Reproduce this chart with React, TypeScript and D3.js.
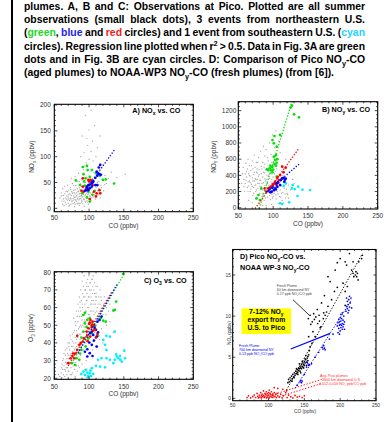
import React, { useLayoutEffect, useRef } from "react";
import * as d3 from "d3";

type Pt = [number, number];
type Seg = { t: string; c?: string; s?: "sub" | "sup" };

const FONT = "'Liberation Sans', Arial, Helvetica, sans-serif";
const GREEN = "#00e000";
const BLUE = "#0000ff";
const RED = "#ff0000";
const CYAN = "#00eeff";
const GRAY = "#a4a4a4";

// caption text, one array per printed line
const captionLines: Seg[][] = [
  [{ t: "plumes. A, B and C: Observations at Pico. Plotted are all summer" }],
  [{ t: "observations (small black dots), 3 events from northeastern U.S." }],
  [
    { t: "(" }, { t: "green", c: "#22d822" }, { t: ", " }, { t: "blue", c: "#2222ee" },
    { t: " and " }, { t: "red", c: "#ee2222" },
    { t: " circles) and 1 event from southeastern U.S. (" }, { t: "cyan", c: "#22d4ff" },
  ],
  [{ t: "circles). Regression line plotted when r" }, { t: "2", s: "sup" }, { t: " > 0.5. Data in Fig. 3A are green" }],
  [{ t: "dots and in Fig. 3B are cyan circles. D: Comparison of Pico NO" }, { t: "y", s: "sub" }, { t: "-CO" }],
  [{ t: "(aged plumes) to NOAA-WP3 NO" }, { t: "y", s: "sub" }, { t: "-CO (fresh plumes) (from [6])." }],
];

const xTicks = [50, 100, 150, 200, 250];
const yTicksA = [0, 50, 100, 150, 200];
const yTicksB = [0, 200, 400, 600, 800, 1000, 1200];
const yTicksC = [20, 30, 40, 50, 60, 70, 80];
const yTicksD = [0, 5, 10, 15];

// ---- Panel A: NOx vs CO
const grayA: Pt[] = [
  [66,12],[68,18],[70,22],[70,10],[72,15],[72,28],[73,20],[74,8],[75,25],[75,32],[76,14],[77,19],[78,24],[78,35],[79,11],
  [80,28],[80,17],[81,22],[82,30],[82,13],[83,38],[84,20],[84,26],[85,16],[85,33],[86,23],[87,29],[87,10],[88,36],[88,19],
  [89,25],[90,31],[90,14],[91,22],[92,40],[92,27],[93,17],[94,34],[94,24],[95,12],[96,29],[96,37],[97,20],[98,26],[99,33],
  [100,18],[100,42],[101,24],[102,30],[103,15],[58,20],[60,30],[61,14],[62,38],[63,25],[64,5],[65,42],[67,33],[69,45],
  [71,4],[73,40],[76,48],[79,3],[81,44],[83,52],[86,6],[88,47],[90,55],[93,4],[95,50],[97,60],[99,8],[102,48],[104,38],
  [105,58],[106,22],[107,70],[108,44],[110,30],[111,62],[112,50],[114,38],[115,72],[117,45],[119,56],[121,34],[123,64],
  [125,48],[128,58],[132,70],[85,68],[92,75],[96,88],[100,95],[103,110],[98,122],[105,130],[90,140],[100,152],[108,160],
  [95,180],[103,190],[120,85],[140,60],[152,66],[110,100],[88,100],[80,62],[75,58],[69,16],[71,35],[74,18],[77,30],[79,21],
  [83,9],[86,40],[89,12],[91,35],[93,30],[97,15],[98,44],[101,36],[104,27],[107,34],[109,18],[113,26],[116,20],[118,30],
  [63,18],[65,28],[67,8],[68,24],[69,32],[71,18],[72,6],[73,26],[74,36],[75,14],[76,29],[77,9],[78,16],[79,30],[80,8],
  [80,36],[81,15],[82,24],[83,18],[84,32],[85,10],[86,28],[86,18],[87,36],[88,24],[89,16],[89,42],[90,22],[91,9],[91,28],
  [92,18],[93,36],[94,14],[95,26],[95,40],[96,20],[97,32],[98,12],[99,28],[100,36],[101,14],[102,22],[103,40],[104,20],
  [105,30],[106,44],[108,26],[110,40],[112,34],[114,52],[118,40],[122,46],[92,58],[86,52],[78,44],[70,26],[66,20],[64,14],
  [60,24],[62,8],[94,82],[106,92],[112,118],[97,135],[93,108],[116,140],
];
const greenA: Pt[] = [
  [91,80],[97,82],[98,74],[104,74],[124,56],[136,48],[81,54],[92,66],[95,58],[101,61],[106,52],[111,45],[108,34],[99,32],
  [94,44],[87,45],[101,13],[97,21],[105,26],[90,29],[120,55],[116,63],[110,68],[100,45],[96,39],[103,50],[93,52],
];
const blueA: Pt[] = [
  [116,84],[114,79],[111,71],[115,66],[117,65],[112,63],[109,59],[106,52],[104,48],[101,46],[99,45],[97,42],[96,35],
  [94,34],[99,35],[104,42],[109,45],[112,45],[101,39],[105,50],[113,67],[98,37],
];
const redA: Pt[] = [
  [91,42],[92,32],[89,34],[91,58],[100,52],[104,53],[107,32],[111,29],[116,29],[115,35],[110,23],[101,18],[96,39],
  [99,55],[105,45],[102,55],
];
const fitBlueA: Pt[] = [[95, 35], [137, 114]];

// ---- Panel B: NOy vs CO
const grayB: Pt[] = [
  [60,300],[62,380],[63,250],[65,420],[66,330],[67,200],[68,460],[69,290],[70,370],[71,150],[72,410],[72,250],[73,330],
  [74,500],[75,200],[75,280],[76,440],[77,350],[78,120],[78,240],[79,390],[80,300],[80,470],[81,180],[82,340],[83,420],
  [83,260],[84,140],[85,380],[85,220],[86,310],[87,500],[87,90],[88,270],[88,430],[89,180],[90,350],[90,230],[91,400],
  [92,130],[92,300],[93,460],[94,200],[95,260],[95,360],[96,100],[97,320],[97,420],[98,170],[99,240],[100,380],[100,140],
  [101,280],[102,200],[103,330],[104,110],[105,250],[106,400],[107,170],[108,300],[110,220],[111,130],[112,270],[114,190],
  [116,240],[55,300],[56,420],[58,350],[57,500],[59,200],[61,550],[64,600],[66,520],[70,580],[73,650],[76,560],[79,620],
  [82,700],[85,560],[88,640],[90,720],[93,580],[95,800],[97,660],[99,900],[102,740],[104,950],[106,600],[108,820],[110,680],
  [112,520],[114,400],[118,330],[120,180],[122,280],[125,220],[128,350],[118,120],[115,60],[108,50],[98,40],[90,30],[80,50],
  [70,60],[65,90],[100,560],[96,500],[92,620],[86,760],[112,880],[118,600],[124,450],[130,300],[122,120],[85,30],[62,450],
  [64,320],[67,390],[71,480],[74,360],[77,430],[81,260],[84,480],[86,170],[89,330],[91,250],[94,410],[98,350],[103,450],
  [58,260],[60,420],[61,340],[63,480],[64,200],[65,270],[66,400],[67,310],[68,230],[69,520],[70,260],[71,330],[72,180],
  [73,440],[74,280],[75,350],[76,220],[77,480],[78,300],[79,160],[80,410],[81,340],[82,230],[83,510],[84,300],[85,170],
  [86,440],[87,230],[88,360],[89,120],[90,470],[91,300],[92,200],[93,390],[94,280],[95,150],[96,430],[97,210],[98,300],
  [99,120],[100,320],[101,180],[102,420],[103,260],[104,160],[105,340],[106,200],[108,250],[109,140],[110,320],[112,180],
  [113,90],[115,280],[117,170],[119,230],[121,160],[105,480],[98,560],[88,540],[78,560],
];
const greenB: Pt[] = [
  [127,1262],[125,1237],[130,1155],[137,1118],[110,900],[102,887],[99,837],[101,796],[105,755],[104,652],[101,631],
  [103,590],[105,557],[102,540],[104,520],[99,507],[95,487],[93,466],[91,474],[97,462],[99,437],[105,384],[83,239],
  [76,115],[79,157],[81,95],[100,470],[106,600],[96,520],
];
const redB: Pt[] = [
  [113,507],[118,495],[115,437],[110,404],[106,371],[103,322],[100,289],[97,260],[93,239],[88,239],[105,280],[108,342],
  [102,301],[99,272],[113,363],[90,200],[95,250],[107,310],
];
const blueB: Pt[] = [
  [117,350],[113,363],[116,322],[111,342],[110,280],[106,260],[103,239],[99,247],[95,231],[93,206],[98,198],[101,218],
  [105,301],[107,313],[115,370],[118,360],[96,190],[104,225],
];
const cyanB: Pt[] = [
  [115,268],[128,280],[131,231],[136,260],[142,223],[153,219],[135,144],[110,54],[123,66],[113,45],[127,239],[118,300],
];
const fitGreenB: Pt[] = [[80, -10], [127, 1311]];
const fitRedB: Pt[] = [[74, -10], [136, 722]];
const fitBlueB: Pt[] = [[90, 190], [138, 545]];

// ---- Panel C: O3 vs CO
const grayC: Pt[] = [
  [58,21],[60,23],[61,20.5],[62,25],[63,22],[64,27],[65,21],[66,24],[67,29],[68,22],[69,26],[70,31],[70,20.5],[71,24],
  [72,28],[73,33],[73,22],[74,26],[75,30],[76,35],[76,23],[77,27],[78,32],[79,25],[80,37],[80,21],[81,29],[82,34],[83,24],
  [84,39],[85,27],[66,33],[68,37],[70,40],[72,36],[74,42],[75,38],[76,45],[78,40],[79,47],[80,43],[81,50],[82,38],[83,45],
  [84,52],[85,35],[85,48],[86,55],[87,42],[88,50],[88,58],[89,38],[90,46],[90,53],[91,60],[92,43],[93,49],[93,56],[94,62],
  [95,40],[95,52],[96,58],[97,46],[97,64],[98,54],[99,60],[99,42],[100,48],[100,66],[101,56],[102,62],[103,50],[103,44],
  [104,58],[105,68],[106,52],[107,62],[108,46],[109,57],[110,64],[111,50],[112,60],[114,54],[116,62],[118,48],[120,56],
  [84,62],[86,66],[88,70],[89,64],[90,75],[91,68],[92,72],[93,78],[94,66],[95,70],[96,74],[97,68],[98,76],[99,72],[100,78],
  [101,70],[102,74],[103,66],[104,76],[105,72],[106,78],[107,70],[108,74],[110,68],[112,72],[114,66],[116,70],[118,64],
  [122,66],[125,60],[128,58],[130,62],[62,30],[64,34],[66,29],[68,31],[56,22],[72,40],[78,54],[82,58],[115,42],[120,40],
  [125,50],[130,52],[135,46],[110,38],[105,36],[96,30],[90,28],[86,26],[88,22],[94,25],[67,26],[71,33],[74,30],[77,38],
  [79,33],[82,42],[86,45],[89,49],[91,41],[94,53],[97,50],[99,56],[102,53],[104,64],[107,56],[109,66],[111,58],[87,60],
  [60,26],[61,28],[63,31],[65,25],[66,36],[68,28],[69,34],[70,24],[71,38],[72,31],[73,44],[74,34],[75,22],[76,41],[77,31],
  [78,46],[79,36],[80,52],[81,40],[82,47],[83,55],[84,43],[85,58],[86,49],[87,63],[88,45],[89,55],[90,62],[91,50],[92,66],
  [93,52],[94,70],[95,58],[96,64],[97,72],[98,60],[99,66],[100,54],[101,74],[102,58],[103,70],[104,62],[105,76],[106,64],
  [107,58],[108,68],[109,62],[110,72],[111,66],[113,62],[115,58],[117,66],[119,60],[121,62],[124,56],[127,64],[82,27],
  [78,29],[88,33],[92,36],
];
const greenC: Pt[] = [
  [149,79],[139,63.4],[135,58.3],[137,58.7],[124,52],[120.5,52.6],[116.7,54],[94,57],[91.7,55.8],[94,51],[97.5,53],
  [101,54],[104,50.8],[92,46.4],[89,43],[99,42.6],[104,45.5],[89,36],[87,34],[82,31.3],[75,28.5],[80,27.5],[86,30.4],
  [96.5,48.9],[108.5,49.6],[113,44],[95,38],
];
const redC: Pt[] = [
  [102,53],[105,52],[100,50.8],[107,50],[103.8,48.9],[99,48.3],[109,47.4],[112,45],[110,43],[101.6,43.6],[97.5,44],
  [92.7,42.6],[91,40.8],[86,38.9],[83,36],[80,34],[76,32.6],[73.5,31.3],[79,31.3],[70,28.5],[96.5,46.4],[83,44],
  [104,50],[106,47],[101,51.5],[98,41],[88,40],[77,34],
];
const blueC: Pt[] = [
  [118,54.9],[115,53],[112,52],[110,47.4],[104,46.4],[101.6,45.5],[106,44.5],[111,43.6],[107,41.3],[100.4,40.2],
  [104,38.9],[97.5,36.4],[101,34.2],[97.5,32.3],[105,32.6],[94,35],[111,37.9],[108,48.5],[113,46],
];
const cyanC: Pt[] = [
  [89,22.5],[94,21.9],[97.5,23.2],[101,22.8],[99,21.3],[102,24.3],[106,22.5],[95.7,24.7],[92,23.8],[104,25.7],[98,20.6],
  [103,21.2],[116,26.6],[123,26.2],[118,31.3],[113,30.4],[125,31.3],[130,30.4],[137,46.4],[130,43.6],[125,44],
  [120.5,41.7],[123,38.9],[140,32.3],[142,31.3],[137,30.4],[144.5,32.6],[147,29.4],[150.7,35.6],[151.7,31.3],[135,28.5],
  [125,36],[110,27],[139,33.5],[145,30.5],
];
const fitGreenC: Pt[] = [[75, 28.5], [151, 79.4]];
const fitRedC: Pt[] = [[70, 27], [133, 69]];
const fitBlueC: Pt[] = [[84, 34], [140, 73]];

// ---- Panel D: Pico vs NOAA WP-3
const blackD: Pt[] = [
  [127,1.9],[128,2.3],[129,2.0],[130,2.5],[131,2.2],[132,2.7],[133,2.4],[134,2.9],[135,2.6],[136,3.1],[137,2.8],[138,3.3],
  [139,3.0],[140,3.5],[140,3.1],[141,3.2],[142,3.7],[142,3.4],[143,3.6],[144,3.9],[144,3.3],[145,3.7],[146,4.1],[146,3.6],
  [147,3.9],[148,4.3],[148,3.8],[149,4.1],[150,4.5],[150,4.0],[151,4.3],[152,4.7],[153,4.4],[154,4.9],[155,4.6],[156,5.3],
  [157,5.8],[158,6.3],[133,2.1],[136,2.5],[139,3.6],[141,2.9],[143,4.2],[145,3.1],[147,4.5],[149,3.7],[151,4.8],[153,4.0],
  [155,5.1],[152,5.2],[155.6,9.7],[158,10.1],[161,9.3],[163,10.3],[166,9.9],[168.6,9.1],[170.5,10.1],[176.5,9.7],[179,10.1],
  [181,10.5],[173,8.7],[162,8.1],[156,7.5],[160.6,6.7],[164,9.6],[159,9.0],[171,9.4],[177,10.4],[165,7.5],[172,8.6],
  [183,11.2],[188,12.0],[192,13.0],[196,13.5],[186,14.2],[183,14.8],[193,15.6],[204,14.0],[207,13.0],[210,13.6],[209,12.2],
  [207,11.3],[216,15.6],[218,15.2],[219,14.8],[222,15.4],[223,14.8],[225,14.4],[221,15.0],[224,15.2],[226,16.6],[230,17.0],
  [231,17.4],[218,16.6],[207,16.6],[209,16.2],[200,17.0],[213,17.6],[196,16.5],[178,12.5],[174,11.6],[168,10.8],
];
const blueD: Pt[] = [
  [144,2.0],[145,2.2],[146,1.9],[147,2.1],[153,3.8],[155,4.2],[156,4.0],[154,4.4],[157,4.1],[175,6.2],[176,6.0],[177,6.4],
  [178,6.1],[179,5.9],[196,8.8],[197,9.2],[198,8.5],[198,9.6],[199,8.9],[199,9.3],[200,8.2],[200,9.0],[200,9.8],[201,8.6],
  [201,9.4],[202,8.9],[202,9.7],[203,8.4],[203,9.1],[204,9.5],[204,8.7],[205,9.0],[205,10.0],[206,9.3],[197,8.0],[201,10.2],
  [203,10.4],[199,7.8],[206,8.4],[208,10.6],[209,11.2],[210,10.9],[210,11.8],[211,11.4],[212,10.7],[212,12.0],[213,11.1],
  [214,11.6],[215,12.2],[216,11.0],[213,12.4],[211,10.4],[140,1.6],[150,2.9],[160,4.2],[165,5.0],[170,5.6],[185,7.2],
  [190,7.8],
];
const redD: Pt[] = [
  [70,0.1],[72,0.3],[75,0.05],[78,0.2],[80,0.4],[82,0.1],[84,0.6],[85,0.25],[86,0.05],[87,0.4],[88,0.15],[89,0.7],[90,0.3],
  [90,0.05],[91,0.5],[92,0.2],[93,0.9],[93,0.35],[94,0.1],[95,0.6],[95,0.25],[96,0.45],[97,0.05],[97,0.8],[98,0.3],
  [98,0.55],[99,0.15],[100,0.7],[100,0.4],[101,0.05],[101,1.0],[102,0.25],[102,0.6],[103,0.45],[104,0.15],[104,0.8],
  [105,0.35],[106,0.55],[106,0.1],[107,0.3],[108,0.7],[109,0.2],[110,0.45],[111,0.1],[112,0.6],[113,0.3],[115,0.15],
  [117,0.5],[119,0.05],[121,0.3],[124,0.7],[126,0.1],[128,0.4],[131,0.2],[134,0.05],[137,0.35],[140,0.15],[143,0.25],
  [147,0.1],[150,0.3],[120,1.1],[113,1.2],[125,0.9],[108,1.3],
];
const fitBlackD: Pt[] = [[125, 1.0], [231, 17.6]];
const fitBlueD: Pt[] = [[137, 1.2], [216, 12.0]];
const fitRedD1: Pt[] = [[105, 0.4], [174, 2.3]];
const fitRedD2: Pt[] = [[115, 0.2], [174, 1.8]];
const arrowBlackD: Pt[] = [[134, 12.0], [157, 10.1]];
const arrowBlueD: Pt[] = [[131, 6.0], [186, 7.9]];

type Scale = d3.ScaleLinear<number, number>;

function segs(list: Seg[], fs: number) {
  let shift = 0;
  return list.map((s, i) => {
    const target = s.s === "sub" ? fs * 0.25 : s.s === "sup" ? -fs * 0.38 : 0;
    const dy = target - shift;
    shift = target;
    return (
      <tspan key={i} dy={dy !== 0 ? dy : undefined} fill={s.c} fontSize={s.s ? fs * 0.7 : undefined}>
        {s.t}
      </tspan>
    );
  });
}

function Dots({ pts, x, y, color, r }: { pts: Pt[]; x: Scale; y: Scale; color: string; r: number }) {
  return (
    <g fill={color}>
      {pts.map((d, i) => (
        <circle key={i} cx={x(d[0])} cy={y(d[1])} r={r} />
      ))}
    </g>
  );
}

function Fit({ pts, x, y, color, w = 1.3 }: { pts: Pt[]; x: Scale; y: Scale; color: string; w?: number }) {
  const line = d3.line<Pt>().x((d) => x(d[0])).y((d) => y(d[1]));
  return <path d={line(pts) || ""} stroke={color} strokeWidth={w} strokeDasharray="1.3,1.7" fill="none" />;
}

type AxesProps = {
  x: Scale;
  y: Scale;
  yTicks: number[];
  yMinorStep: number;
  fs: number;
  major: number;
  minor: number;
  xLabY: number;
  yLabGap: number;
  xTitle: [number, number];
  yTitle: [number, number];
  yName: Seg[];
};

function Axes(p: AxesProps) {
  const { x, y, fs } = p;
  const [xl, xr] = x.range();
  const [yb, yt] = y.range();
  const xMinor = d3.range(50, 251, 10).filter((v) => v % 50 !== 0);
  const [d0, d1] = y.domain();
  const yMinor = d3
    .range(Math.ceil(d0 / p.yMinorStep) * p.yMinorStep, d1, p.yMinorStep)
    .filter((v) => !p.yTicks.includes(v));
  const ticks: JSX.Element[] = [];
  const push = (k: string, x1: number, y1: number, x2: number, y2: number) =>
    ticks.push(<line key={k} x1={x1} y1={y1} x2={x2} y2={y2} />);
  xTicks.forEach((v) => {
    push(`xb${v}`, x(v), yb, x(v), yb - p.major);
    push(`xt${v}`, x(v), yt, x(v), yt + p.major);
  });
  xMinor.forEach((v) => {
    push(`xbm${v}`, x(v), yb, x(v), yb - p.minor);
    push(`xtm${v}`, x(v), yt, x(v), yt + p.minor);
  });
  p.yTicks.forEach((v) => {
    push(`yl${v}`, xl, y(v), xl + p.major, y(v));
    push(`yr${v}`, xr, y(v), xr - p.major, y(v));
  });
  yMinor.forEach((v) => {
    push(`ylm${v}`, xl, y(v), xl + p.minor, y(v));
    push(`yrm${v}`, xr, y(v), xr - p.minor, y(v));
  });
  return (
    <g fontFamily={FONT} fontSize={fs} fill="#333">
      <g stroke="#000" strokeWidth={0.7}>{ticks}</g>
      <rect x={xl} y={yt} width={xr - xl} height={yb - yt} fill="none" stroke="#000" strokeWidth={1.1} />
      {xTicks.map((v) => (
        <text key={v} x={x(v)} y={p.xLabY} textAnchor="middle">{v}</text>
      ))}
      {p.yTicks.map((v) => (
        <text key={v} x={xl - p.yLabGap} y={y(v) + fs * 0.35} textAnchor="end">{v}</text>
      ))}
      <text x={p.xTitle[0]} y={p.xTitle[1]} textAnchor="middle">CO (ppbv)</text>
      <text transform={`translate(${p.yTitle[0] + fs * 0.35},${p.yTitle[1]}) rotate(-90)`} textAnchor="middle">
        {segs(p.yName, fs)}
      </text>
    </g>
  );
}

const CAP_X = 24;
const CAP_W = 341;
const CAP_FS = 10.4;

export default function App() {
  const refs = useRef<(SVGTextElement | null)[]>([]);

  useLayoutEffect(() => {
    refs.current.forEach((el, i) => {
      if (!el || i === captionLines.length - 1) return;
      el.style.wordSpacing = "0px";
      const len = el.getComputedTextLength();
      const n = (el.textContent || "").split(" ").length - 1;
      if (n > 0) el.style.wordSpacing = `${(CAP_W - len) / n}px`;
    });
  }, []);

  const xA = d3.scaleLinear().domain([50, 250]).range([54.3, 193.3]);
  const yA = d3.scaleLinear().domain([-6.6, 201.4]).range([211.7, 104.3]);
  const xB = d3.scaleLinear().domain([50, 250]).range([238.3, 377.7]);
  const yB = d3.scaleLinear().domain([-16, 1311]).range([209, 101.7]);
  const xC = d3.scaleLinear().domain([50, 250]).range([54.3, 193.3]);
  const yC = d3.scaleLinear().domain([19.4, 80.3]).range([379.3, 271.7]);
  const xD = d3.scaleLinear().domain([50, 250]).range([232.7, 376]);
  const yD = d3.scaleLinear().domain([-0.29, 18.1]).range([400.7, 249.5]);

  const rr = 1.35;
  const rd = 0.85;
  const rg = 0.65;

  return (
    <div style={{ position: "absolute", left: 0, top: 0 }}>
      <svg width={386} height={422} style={{ display: "block", background: "#fff" }}>
        <rect x={11} y={0} width={2} height={422} fill="#000" />

        <g fontFamily={FONT} fontSize={CAP_FS} fontWeight="bold" fill="#000">
          {captionLines.map((line, i) => (
            <text key={i} ref={(el) => { refs.current[i] = el; }} x={CAP_X} y={9.6 + i * 13.35}>
              {segs(line, CAP_FS)}
            </text>
          ))}
        </g>

        {/* A */}
        <Dots pts={grayA} x={xA} y={yA} color={GRAY} r={rg} />
        <Dots pts={greenA} x={xA} y={yA} color={GREEN} r={rr} />
        <Dots pts={redA} x={xA} y={yA} color={RED} r={rr} />
        <Dots pts={blueA} x={xA} y={yA} color={BLUE} r={rr} />
        <Fit pts={fitBlueA} x={xA} y={yA} color={BLUE} />
        <Axes x={xA} y={yA} yTicks={yTicksA} yMinorStep={10} fs={6.5} major={3} minor={1.6}
          xLabY={219.6} yLabGap={3.5} xTitle={[123.5, 228]} yTitle={[31.7, 156.7]}
          yName={[{ t: "NO" }, { t: "x", s: "sub" }, { t: " (ppbv)" }]} />
        <text x={180.3} y={112.9} textAnchor="end" fontFamily={FONT} fontWeight="bold" fontSize={7.2}>
          {segs([{ t: "A) NO" }, { t: "x", s: "sub" }, { t: " vs. CO" }], 7.2)}
        </text>

        {/* B */}
        <Dots pts={grayB} x={xB} y={yB} color={GRAY} r={rg} />
        <Dots pts={cyanB} x={xB} y={yB} color={CYAN} r={rr} />
        <Dots pts={greenB} x={xB} y={yB} color={GREEN} r={rr} />
        <Dots pts={redB} x={xB} y={yB} color={RED} r={rr} />
        <Dots pts={blueB} x={xB} y={yB} color={BLUE} r={rr} />
        <Fit pts={fitGreenB} x={xB} y={yB} color={GREEN} />
        <Fit pts={fitRedB} x={xB} y={yB} color={RED} />
        <Fit pts={fitBlueB} x={xB} y={yB} color={BLUE} />
        <Axes x={xB} y={yB} yTicks={yTicksB} yMinorStep={50} fs={6.5} major={3} minor={1.6}
          xLabY={218} yLabGap={2} xTitle={[308, 226.3]} yTitle={[213.3, 156.7]}
          yName={[{ t: "NO" }, { t: "y", s: "sub" }, { t: " (ppbv)" }]} />
        <text x={370} y={112.4} textAnchor="end" fontFamily={FONT} fontWeight="bold" fontSize={7.2}>
          {segs([{ t: "B) NO" }, { t: "y", s: "sub" }, { t: " vs. CO" }], 7.2)}
        </text>

        {/* C */}
        <Dots pts={grayC} x={xC} y={yC} color={GRAY} r={rg} />
        <Dots pts={cyanC} x={xC} y={yC} color={CYAN} r={rr} />
        <Dots pts={greenC} x={xC} y={yC} color={GREEN} r={rr} />
        <Dots pts={blueC} x={xC} y={yC} color={BLUE} r={rr} />
        <Dots pts={redC} x={xC} y={yC} color={RED} r={rr} />
        <Fit pts={fitGreenC} x={xC} y={yC} color={GREEN} />
        <Fit pts={fitRedC} x={xC} y={yC} color={RED} />
        <Fit pts={fitBlueC} x={xC} y={yC} color={BLUE} />
        <Axes x={xC} y={yC} yTicks={yTicksC} yMinorStep={2} fs={6.5} major={3} minor={1.6}
          xLabY={389} yLabGap={3.5} xTitle={[123.5, 396.3]} yTitle={[31, 328]}
          yName={[{ t: "O" }, { t: "3", s: "sub" }, { t: " (ppbv)" }]} />
        <text x={186.7} y={282.8} textAnchor="end" fontFamily={FONT} fontWeight="bold" fontSize={7.2}>
          {segs([{ t: "C) O" }, { t: "3", s: "sub" }, { t: " vs. CO" }], 7.2)}
        </text>

        {/* D */}
        <Dots pts={redD} x={xD} y={yD} color={RED} r={rd} />
        <Fit pts={fitRedD1} x={xD} y={yD} color={RED} w={1} />
        <Fit pts={fitRedD2} x={xD} y={yD} color={RED} w={1} />
        <Dots pts={blackD} x={xD} y={yD} color="#000" r={rd} />
        <Fit pts={fitBlackD} x={xD} y={yD} color="#000" w={1} />
        <Dots pts={blueD} x={xD} y={yD} color={BLUE} r={rd} />
        <Fit pts={fitBlueD} x={xD} y={yD} color={BLUE} w={1} />
        <path d={d3.line()(arrowBlackD.map((d) => [xD(d[0]), yD(d[1])] as [number, number])) || ""} stroke="#000" strokeWidth={0.8} />
        <path d={d3.line()(arrowBlueD.map((d) => [xD(d[0]), yD(d[1])] as [number, number])) || ""} stroke={BLUE} strokeWidth={1.2} />
        <Axes x={xD} y={yD} yTicks={yTicksD} yMinorStep={1} fs={4.8} major={2.6} minor={1.3}
          xLabY={406.8} yLabGap={1.8} xTitle={[305, 412.6]} yTitle={[229.3, 333]}
          yName={[{ t: "NO" }, { t: "y", s: "sub" }, { t: " (ppbv)" }]} />
        <g fontFamily={FONT} fontWeight="bold" fontSize={7.2} fill="#000">
          <text x={240} y={259.2}>{segs([{ t: "D) Pico NO" }, { t: "y", s: "sub" }, { t: "-CO vs." }], 7.2)}</text>
          <text x={240} y={269.8}>{segs([{ t: "NOAA WP-3 NO" }, { t: "y", s: "sub" }, { t: "-CO" }], 7.2)}</text>
        </g>
        <rect x={241.5} y={308.3} width={49.5} height={25.7} fill="#ffff00" />
        <g fontFamily={FONT} fontWeight="bold" fontSize={6.8} fill="#000" textAnchor="middle">
          <text x={266.3} y={314}>{segs([{ t: "7-12% NO" }, { t: "y", s: "sub" }], 6.8)}</text>
          <text x={266.3} y={322}>export from</text>
          <text x={266.3} y={329.6}>U.S. to Pico</text>
        </g>
        <g fontFamily={FONT} fontSize={3.6} fill="#444">
          <text x={276.7} y={287.2}>Fresh Plume</text>
          <text x={276.7} y={291}>60 km downwind NY</text>
          <text x={276.7} y={294.8}>{segs([{ t: "0.17 ppb NO" }, { t: "y", s: "sub" }, { t: "/CO ppb" }], 3.6)}</text>
        </g>
        <g fontFamily={FONT} fontSize={3.6} fill={BLUE}>
          <text x={239} y={346.8}>Fresh Plume</text>
          <text x={239} y={350.6}>700 km downwind NY</text>
          <text x={239} y={354.6}>{segs([{ t: "0.13 ppb NO" }, { t: "y", s: "sub" }, { t: "/CO ppb" }], 3.6)}</text>
        </g>
        <g fontFamily={FONT} fontSize={3.6} fill="#ff3030">
          <text x={320} y={376.8}>Avg. Pico plumes</text>
          <text x={320} y={380.6}>~3600 km downwind U.S.</text>
          <text x={319} y={384.6}>{segs([{ t: "0.012-0.016 NO" }, { t: "y", s: "sub" }, { t: " ppb/CO ppb" }], 3.6)}</text>
        </g>
      </svg>
    </div>
  );
}
